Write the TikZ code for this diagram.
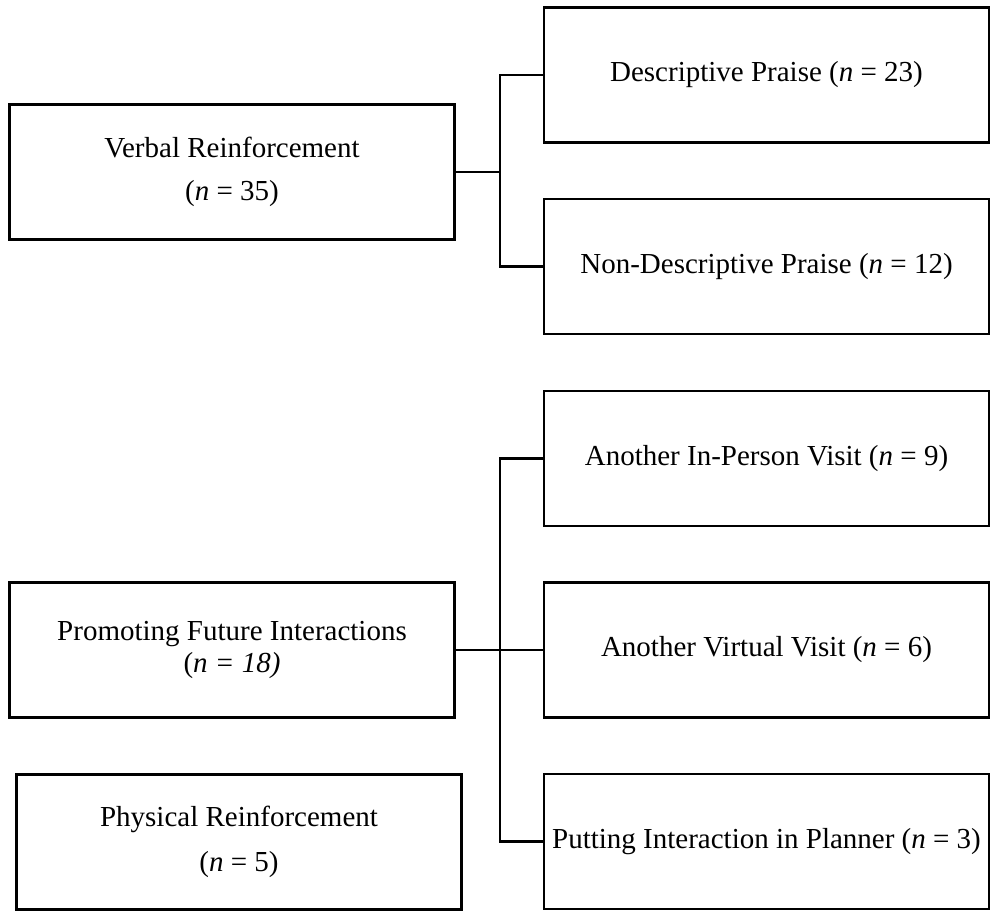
\documentclass[tikz,border=0pt]{standalone}
\usepackage{fontspec}
\setmainfont{Liberation Serif}
\begin{document}
\begin{tikzpicture}[x=1pt,y=-1pt,
  box/.style={draw=black,line width=2.4pt,minimum width=445pt,minimum height=135pt,
    inner sep=0pt,align=center,font=\fontsize{29}{43}\selectfont},
  link/.style={draw=black,line width=2.4pt,line join=miter}]
\useasboundingbox (0,0) rectangle (997,914);

% category boxes (left column)
\node[box] (verbal) at (232,172) {Verbal Reinforcement\\(\textit{n} = 35)};
\node[box,font=\fontsize{29}{32}\selectfont] (promoting) at (232,650)
  {Promoting Future Interactions\\(\textit{n = 18)}};
\node[box,font=\fontsize{29}{45}\selectfont] (physical) at (239,842)
  {Physical Reinforcement\\(\textit{n} = 5)};

% sub-category boxes (right column)
\node[box] (desc) at (766.5,75) {Descriptive Praise (\textit{n} = 23)};
\node[box] (nondesc) at (766.5,266.5) {Non-Descriptive Praise (\textit{n} = 12)};
\node[box] (inperson) at (766.5,458.5) {Another In-Person Visit (\textit{n} = 9)};
\node[box] (virtual) at (766.5,650) {Another Virtual Visit (\textit{n} = 6)};
\node[box] (putting) at (766.5,841.5) {Putting Interaction in Planner (\textit{n} = 3)};

% bracket junctions
\coordinate (j1) at (500,172);
\coordinate (j2) at (500,650);

% verbal reinforcement bracket
\draw[link] (verbal.east) -- (j1);
\draw[link] (desc.west) -| (j1);
\draw[link] (nondesc.west) -| (j1);

% promoting future interactions bracket
\draw[link] (promoting.east) -- (virtual.west);
\draw[link] (inperson.west) -| (j2);
\draw[link] (putting.west) -| (j2);
\end{tikzpicture}
\end{document}
